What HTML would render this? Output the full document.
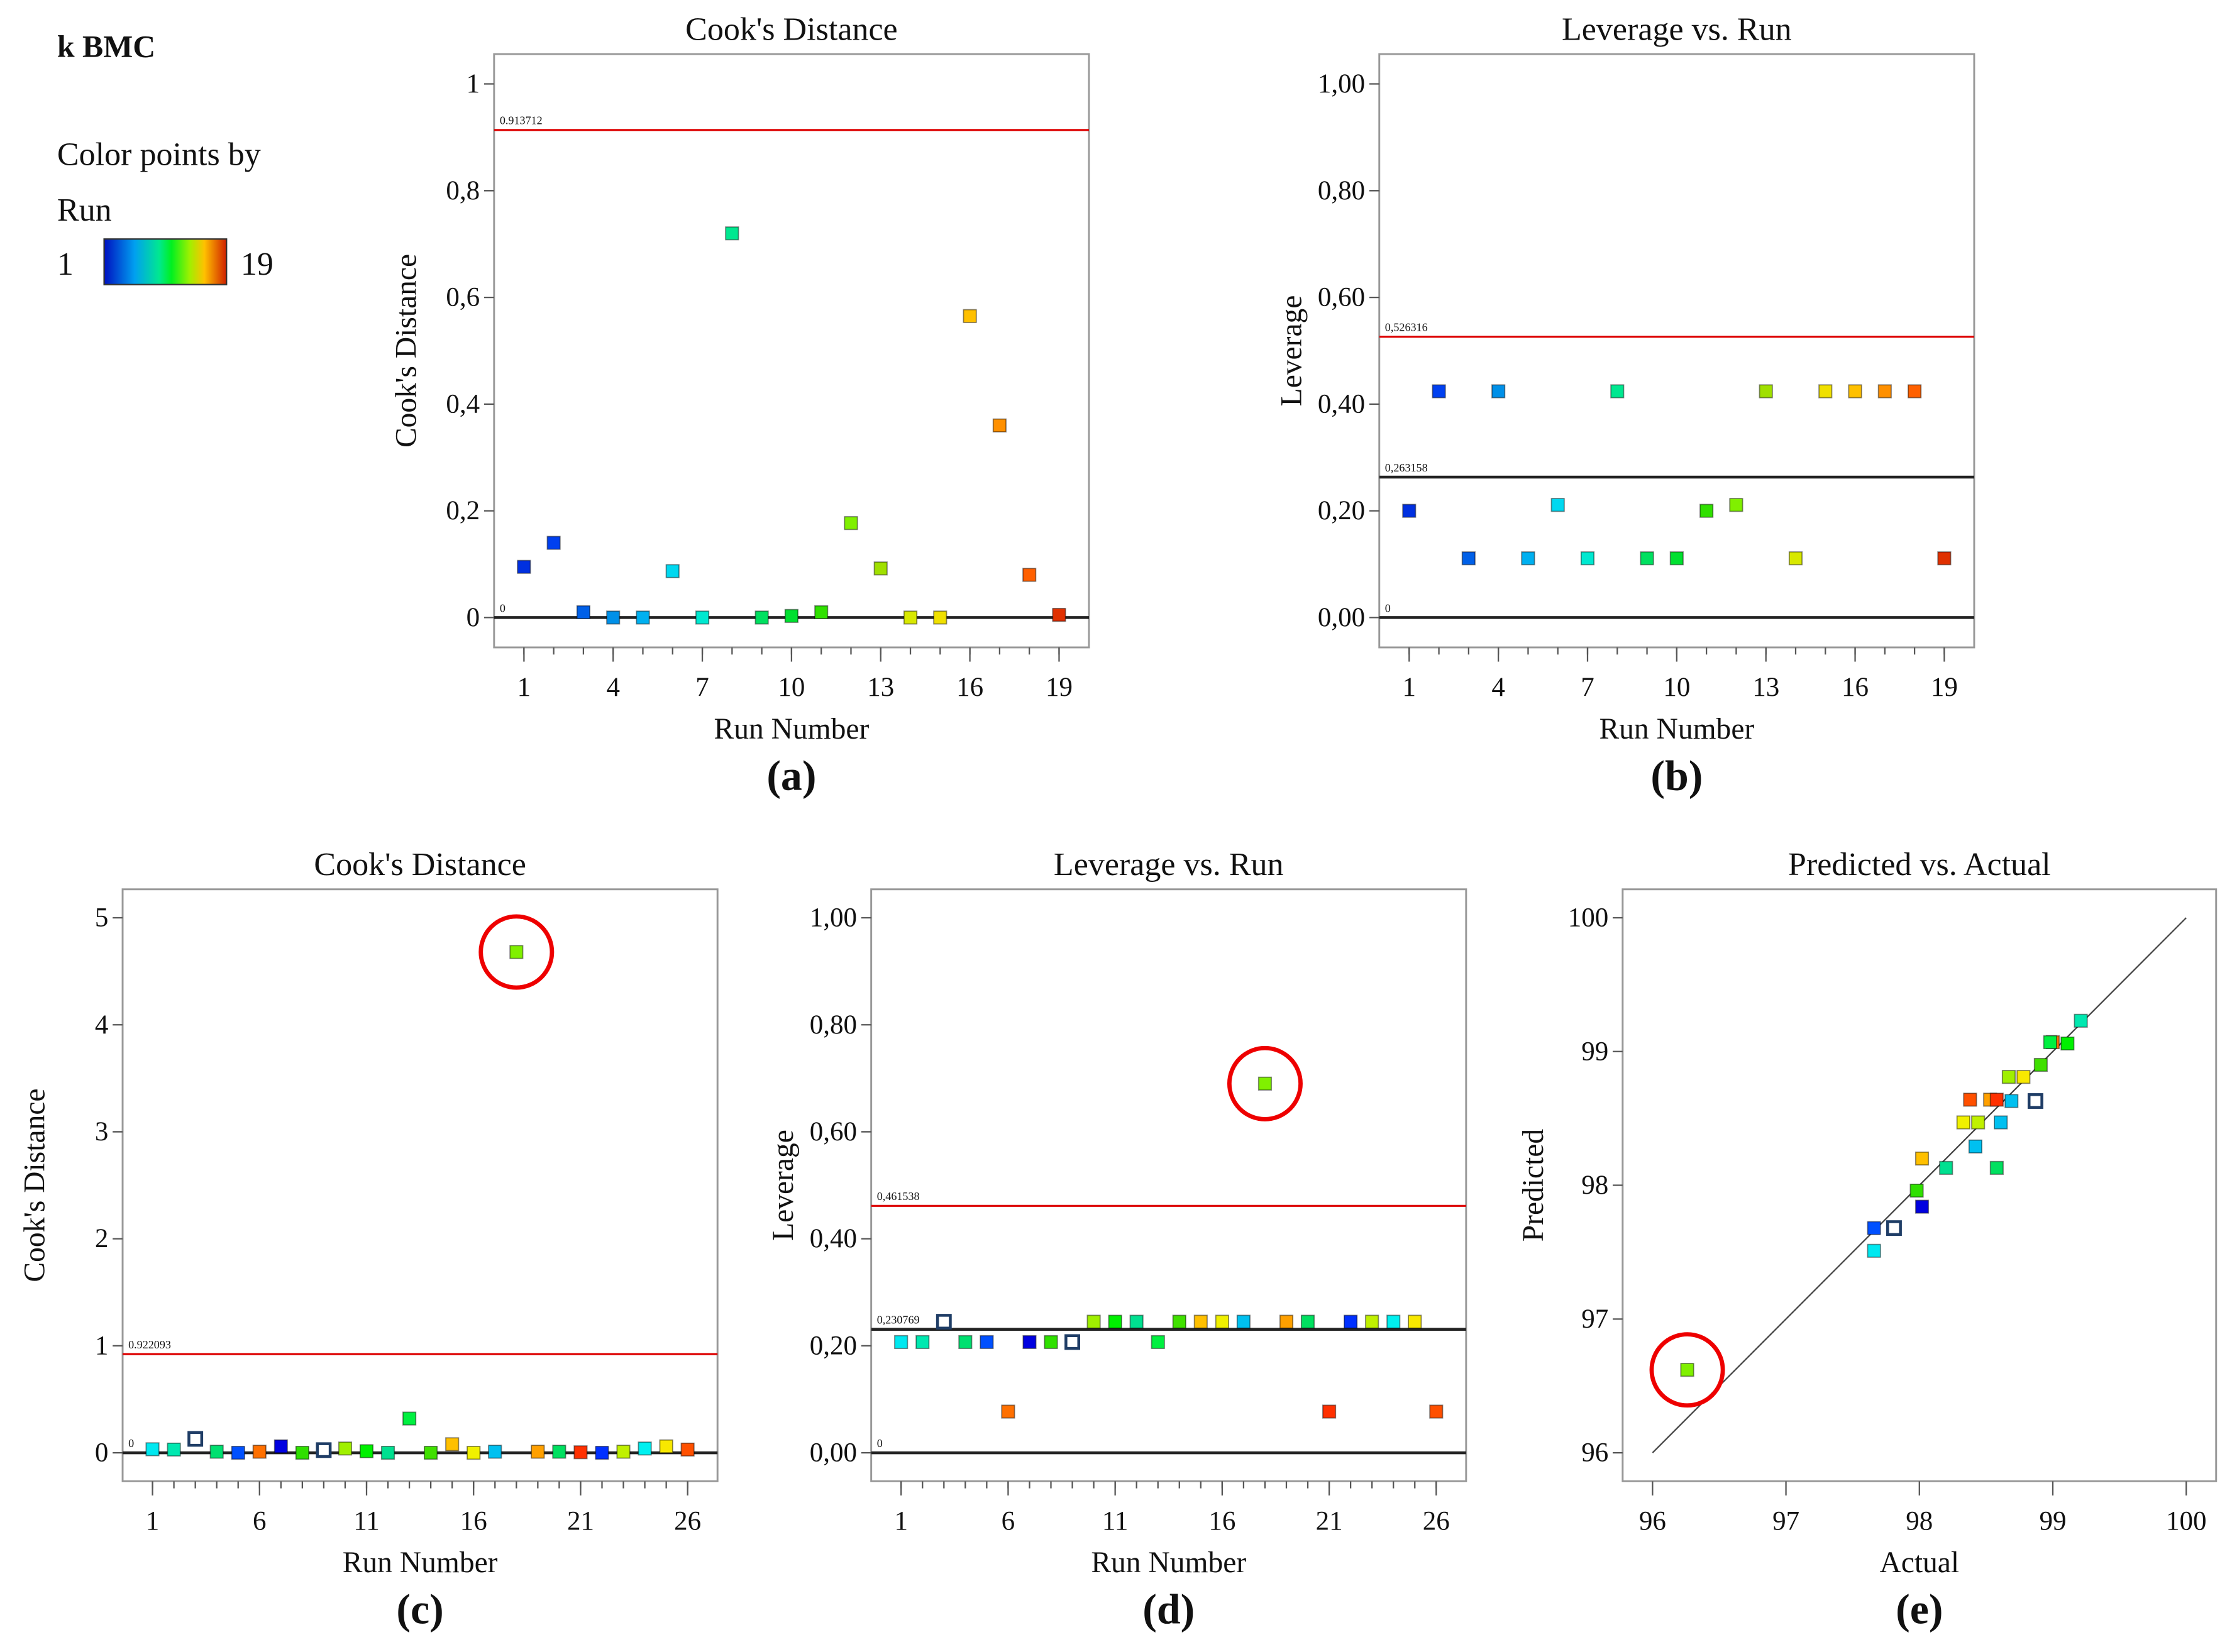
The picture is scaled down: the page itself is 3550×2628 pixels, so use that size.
<!DOCTYPE html>
<html><head><meta charset="utf-8"><style>
html,body{margin:0;padding:0;background:#fff}
svg{display:block}
text{font-family:"Liberation Serif",serif;fill:#111}
</style></head><body>
<svg id="fig" width="3550" height="2628" viewBox="0 0 1568 1161" xmlns="http://www.w3.org/2000/svg">
<defs><linearGradient id="jet" x1="0" x2="1" y1="0" y2="0">
<stop offset="0" stop-color="#0010c0"/><stop offset="0.25" stop-color="#00a0f0"/><stop offset="0.45" stop-color="#00e890"/><stop offset="0.55" stop-color="#00f020"/><stop offset="0.7" stop-color="#a0f000"/><stop offset="0.82" stop-color="#ffc000"/><stop offset="1" stop-color="#d02000"/></linearGradient></defs>
<g>
<text x="40" y="40" font-size="22" font-weight="bold">k BMC</text>
<text x="40" y="116" font-size="23">Color points by</text>
<text x="40" y="155" font-size="23">Run</text>
<text x="40" y="193" font-size="23">1</text>
<rect x="73" y="168" width="86" height="32" fill="url(#jet)" stroke="#333"/>
<text x="169" y="193" font-size="23">19</text>
</g>
</svg>
<script>
// ---- data ----
const runsA = [1,2,3,4,5,6,7,8,9,10,11,12,13,14,15,16,17,18,19];
const cookA = [0.095,0.14,0.01,0,0,0.087,0,0.72,0,0.003,0.01,0.177,0.092,0,0,0.565,0.36,0.08,0.005];
const levB = [0.2,0.424,0.111,0.424,0.111,0.211,0.111,0.424,0.111,0.111,0.2,0.211,0.424,0.111,0.424,0.424,0.424,0.424,0.111];
const colorsA = ['#0030e0','#0040f0','#0060e8','#0090e8','#00b0f0','#00d8f0','#00e8d0','#00e890','#00e060','#00e030','#30e000','#80f000','#a0e000','#d8e800','#f0e000','#ffc000','#ff9000','#ff6000','#e03000'];
const runsC = [1,2,3,4,5,6,7,8,9,10,11,12,13,14,15,16,17,18,19,20,21,22,23,24,25,26];
const cookC = [0.033,0.03,0.13,0.01,0,0.01,0.06,0,0.025,0.04,0.015,0,0.32,0,0.08,0,0.01,4.68,0.01,0.01,0.005,0,0.01,0.04,0.06,0.03];
const levD = [0.207,0.207,0.245,0.207,0.207,0.077,0.207,0.207,0.207,0.245,0.245,0.245,0.207,0.245,0.245,0.245,0.245,0.69,0.245,0.245,0.077,0.245,0.245,0.245,0.245,0.077];
const colorsC = ['#00e8f0','#00e8b0','hollow','#00e070','#0050ff','#ff7000','#0000e0','#30e000','hollow','#a0f000','#00f000','#00e090','#00f040','#40e000','#ffc000','#f0f000','#00c0f0','#80f000','#ffa000','#00e060','#ff3000','#0030ff','#c0f000','#00f0f0','#f8e800','#ff5000'];
const actualE = [96.26,97.66,97.81,97.66,98.02,97.98,98.02,98.2,98.42,98.58,98.33,98.44,98.61,98.38,98.53,98.58,98.69,98.87,98.67,98.78,98.91,99.0,98.98,99.11,99.21];
const predE   = [96.62,97.68,97.68,97.51,97.84,97.96,98.2,98.13,98.29,98.13,98.47,98.47,98.47,98.64,98.64,98.64,98.63,98.63,98.81,98.81,98.9,99.07,99.07,99.06,99.23];
const colorsE = ['#80f000','#0050ff','hollow','#00e8f0','#0000e0','#30e000','#ffc000','#00e090','#00c0f0','#00e060','#f0f000','#c0f000','#00c0f0','#ff5000','#ffa000','#ff3000','#00c0f0','hollow','#a0f000','#f8e800','#40e000','#ff7000','#00f040','#00f000','#00e8b0'];
const ticksA = ['0','0,2','0,4','0,6','0,8','1'];
const ticksB = ['0,00','0,20','0,40','0,60','0,80','1,00'];
const ticksC = ['0','1','2','3','4','5'];
const ticksE = ['96','97','98','99','100'];

const NS='http://www.w3.org/2000/svg';
const fig=document.getElementById('fig');
function mk(tag,attrs,parent,txt){const e=document.createElementNS(NS,tag);for(const k in attrs)e.setAttribute(k,attrs[k]);if(txt!==undefined)e.textContent=txt;(parent||fig).appendChild(e);return e;}

function panel(o){
  const g=mk('g',{});
  
  
  const t=mk('text',{x:(o.bx0+o.bx1)/2,y:o.by0-10,'font-size':23,'text-anchor':'middle'},g,o.title);
  
  
  const box=mk('rect',{x:o.bx0,y:o.by0,width:o.bx1-o.bx0,height:o.by1-o.by0,fill:'none',stroke:'#999','stroke-width':1.3},g);
  
  
  const X=v=>o.x0p+(v-o.xmin)/(o.xmax-o.xmin)*(o.x1p-o.x0p);
  const Y=v=>o.y0p+(v-o.ymin)/(o.ymax-o.ymin)*(o.y1p-o.y0p);
  o.yticks.forEach((lab,i)=>{const v=o.ymin+i*(o.ymax-o.ymin)/(o.yticks.length-1);
    mk('line',{x1:o.bx0-7,x2:o.bx0,y1:Y(v),y2:Y(v),stroke:'#555'},g);
    const tt=mk('text',{x:o.bx0-10,y:Y(v)+6,'font-size':19,'text-anchor':'end'},g,lab);
    
    });
  if(o.xlabels){o.xlabels.forEach(lab=>{const v=+lab;
    mk('line',{x1:X(v),x2:X(v),y1:o.by1,y2:o.by1+10,stroke:'#555'},g);
    const tt=mk('text',{x:X(v),y:o.by1+34,'font-size':19,'text-anchor':'middle'},g,lab);
    
    });
    if(o.minor){for(let r=o.xmin;r<=o.xmax;r++)mk('line',{x1:X(r),x2:X(r),y1:o.by1,y2:o.by1+5,stroke:'#555'},g);}
  }
  const xl=mk('text',{x:(o.bx0+o.bx1)/2,y:o.by1+64,'font-size':21,'text-anchor':'middle'},g,o.xlabel);
  
  
  const yl=mk('text',{x:0,y:0,'font-size':21,'text-anchor':'middle',transform:`translate(${o.ylx},${(o.by0+o.by1)/2}) rotate(-90)`},g,o.ylabel);
  
  
  const pl=mk('text',{x:(o.bx0+o.bx1)/2,y:o.by1+100,'font-size':30,'font-weight':'bold','text-anchor':'middle'},g,o.letter);
  
  
  (o.lines||[]).forEach(L=>{
    const ln=mk('line',{x1:o.bx0,x2:o.bx1,y1:Y(L.v),y2:Y(L.v),stroke:L.c,'stroke-width':L.c==='#d00'?1.4:2},g);
    
    
    mk('text',{x:o.bx0+4,y:Y(L.v)-4,'font-size':8,'font-family':'Liberation Sans'},g,L.label);
  });
  return {g,X,Y};
}
function marker(g,x,y,col){
  const h=col==='hollow';
  const r=mk('rect',{x:x-4.5,y:y-4.5,width:9,height:9,fill:h?'#fff':col,stroke:h?'#1f3d66':'rgba(0,0,0,0.45)','stroke-width':h?2:0.8},g);
  
  
}
function circle(g,x,y){const c=mk('circle',{cx:x,cy:y,r:25,fill:'none',stroke:'#e00','stroke-width':3},g);
  
  }

const runTicks19=['1','4','7','10','13','16','19'];
const runTicks26=['1','6','11','16','21','26'];

let p=panel({name:'panel-a-cooks-distance',title:"Cook's Distance",bx0:347,bx1:765,by0:38,by1:455,x0p:368,x1p:744,xmin:1,xmax:19,y0p:434,y1p:59,ymin:0,ymax:1,yticks:ticksA,xlabels:runTicks19,minor:true,xlabel:'Run Number',ylabel:"Cook's Distance",ylx:292,letter:'(a)',lines:[{v:0.913712,c:'#d00',label:'0.913712'},{v:0,c:'#222',label:'0'}]});
runsA.forEach((r,i)=>marker(p.g,p.X(r),p.Y(cookA[i]),colorsA[i]));
p=panel({name:'panel-b-leverage',title:'Leverage vs. Run',bx0:969,bx1:1387,by0:38,by1:455,x0p:990,x1p:1366,xmin:1,xmax:19,y0p:434,y1p:59,ymin:0,ymax:1,yticks:ticksB,xlabels:runTicks19,minor:true,xlabel:'Run Number',ylabel:'Leverage',ylx:914,letter:'(b)',lines:[{v:0.526316,c:'#d00',label:'0,526316'},{v:0.263158,c:'#222',label:'0,263158'},{v:0,c:'#222',label:'0'}]});
runsA.forEach((r,i)=>marker(p.g,p.X(r),p.Y(levB[i]),colorsA[i]));
p=panel({name:'panel-c-cooks-distance',title:"Cook's Distance",bx0:86,bx1:504,by0:625,by1:1041,x0p:107,x1p:483,xmin:1,xmax:26,y0p:1021,y1p:645,ymin:0,ymax:5,yticks:ticksC,xlabels:runTicks26,minor:true,xlabel:'Run Number',ylabel:"Cook's Distance",ylx:31,letter:'(c)',lines:[{v:0.922093,c:'#d00',label:'0.922093'},{v:0,c:'#222',label:'0'}]});
runsC.forEach((r,i)=>marker(p.g,p.X(r),p.Y(cookC[i]),colorsC[i]));
circle(p.g,p.X(18),p.Y(cookC[17]));
p=panel({name:'panel-d-leverage',title:'Leverage vs. Run',bx0:612,bx1:1030,by0:625,by1:1041,x0p:633,x1p:1009,xmin:1,xmax:26,y0p:1021,y1p:645,ymin:0,ymax:1,yticks:ticksB,xlabels:runTicks26,minor:true,xlabel:'Run Number',ylabel:'Leverage',ylx:557,letter:'(d)',lines:[{v:0.461538,c:'#d00',label:'0,461538'},{v:0.230769,c:'#222',label:'0,230769'},{v:0,c:'#222',label:'0'}]});
runsC.forEach((r,i)=>marker(p.g,p.X(r),p.Y(levD[i]),colorsC[i]));
circle(p.g,p.X(18),p.Y(levD[17]));
p=panel({name:'panel-e-predicted-vs-actual',title:'Predicted vs. Actual',bx0:1140,bx1:1557,by0:625,by1:1041,x0p:1161,x1p:1536,xmin:96,xmax:100,y0p:1021,y1p:645,ymin:96,ymax:100,yticks:ticksE,xlabels:ticksE,minor:false,xlabel:'Actual',ylabel:'Predicted',ylx:1084,letter:'(e)',lines:[]});
const diag=mk('line',{x1:p.X(96),y1:p.Y(96),x2:p.X(100),y2:p.Y(100),stroke:'#444','stroke-width':1},p.g);


actualE.forEach((a,i)=>marker(p.g,p.X(a),p.Y(predE[i]),colorsE[i]));
circle(p.g,p.X(actualE[0]),p.Y(predE[0]));
</script>
</body></html>
